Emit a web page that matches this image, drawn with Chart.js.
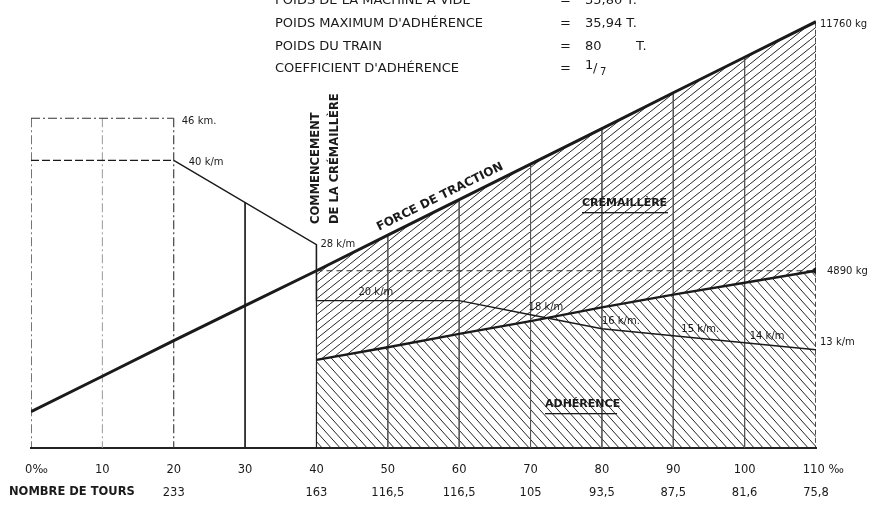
<!DOCTYPE html>
<html>
<head>
<meta charset="utf-8">
<script src="https://cdn.jsdelivr.net/npm/chart.js@4.4.1/dist/chart.umd.min.js"></script>
<style>
  html, body { margin: 0; background: #fff; }
  #wrap { width: 880px; height: 506px; }
</style>
</head>
<body>
<div id="wrap"><canvas id="c"></canvas></div>
<script>
// Rack railway diagram: traction force vs gradient, speed per gradient.

const grades = [0, 10, 20, 30, 40, 50, 60, 70, 80, 90, 100, 110];
const turnsPerMin = ['', '', '233', '', '163', '116,5', '116,5', '105', '93,5', '87,5', '81,6', '75,8'];
const tractionKg = [1000, 1980, 2960, 3930, 4890, 5870, 6850, 7830, 8810, 9800, 10780, 11760];

const rackGrades = [40, 50, 60, 70, 80, 90, 100, 110];
const rackTractionKg = [4890, 5870, 6850, 7830, 8810, 9800, 10780, 11760];
const adhesionKg = [2430, 2780, 3150, 3500, 3880, 4230, 4560, 4890];
const maxAdhesionKg = 4890;

const speedGrades = [0, 20, 40, 40, 60, 70, 80, 90, 100, 110];
const speedKmh = [40, 40, 28, 20, 20, 18, 16, 15, 14, 13];
const maxSpeedKmh = 46;
const speedNotes = ['40 k/m', '28 k/m', '20 k/m', '18 k/m', '16 k/m.', '15 k/m.', '14 k/m', '13 k/m'];

const leftGridGrades = [0, 10, 20, 30, 40];
const leftGridTopKmh = [46, 46, 46, 34, 28];

const headerNames = ['POIDS DE LA MACHINE A VIDE', "POIDS MAXIMUM D'ADHÉRENCE", 'POIDS DU TRAIN', "COEFFICIENT D'ADHÉRENCE"];
const headerValues = ['35,80 T.', '35,94 T.', '80', ''];

const SPEED_MIN = -1;
const INK = '#1a1a1a';
const FONT = "'DejaVu Sans', sans-serif";

function hatch(w, h, dir) {
  const c = document.createElement('canvas');
  c.width = w; c.height = h;
  const g = c.getContext('2d');
  g.strokeStyle = '#262626';
  g.lineWidth = 1;
  for (const k of [-1, 0, 1]) {
    g.beginPath();
    if (dir === '/') { g.moveTo(k * w, h); g.lineTo(k * w + w, 0); }
    else { g.moveTo(k * w, 0); g.lineTo(k * w + w, h); }
    g.stroke();
  }
  return g.createPattern(c, 'repeat');
}

const pts = (xs, ys) => xs.map((x, i) => ({ x, y: ys[i] }));

function vline(gx, top, axis, dash, color, width) {
  return {
    data: [{ x: gx, y: top }, { x: gx, y: axis === 'v' ? SPEED_MIN : 0 }],
    yAxisID: axis,
    borderColor: color,
    borderWidth: width,
    borderDash: dash,
    pointRadius: 0,
    fill: false,
  };
}

const verticals = [];
leftGridGrades.forEach((g, i) => {
  const style = [
    [[9, 3, 2, 3], INK, 1.2],
    [[9, 3, 2, 3], '#9a9a9a', 1],
    [[9, 3, 2, 3], '#333', 1.1],
    [[], '#222', 1],
    [[], '#222', 1.2],
  ][i];
  verticals.push(vline(g, leftGridTopKmh[i], 'v', ...style));
});
rackGrades.slice(1).forEach((g, i) => {
  const last = g === 110;
  verticals.push(vline(g, rackTractionKg[i + 1], 'y', last ? [5, 3] : [], last ? '#222' : '#555', last ? 1.6 : 0.9));
});

const datasets = [
  { // force de traction
    data: pts(grades, tractionKg), yAxisID: 'y',
    borderColor: INK, borderWidth: 3, pointRadius: 0, fill: false,
  },
  { // adhérence
    data: pts(rackGrades, adhesionKg), yAxisID: 'y',
    borderColor: INK, borderWidth: 2.4, fill: false,
    pointRadius: adhesionKg.map((_, i) => i === adhesionKg.length - 1 ? 3 : 0),
    pointBackgroundColor: INK, pointBorderWidth: 0,
  },
  { // vitesse
    data: pts(speedGrades, speedKmh), yAxisID: 'v',
    borderColor: INK, borderWidth: 1.4, pointRadius: 0, fill: false,
    segment: { borderDash: ctx => ctx.p0DataIndex === 0 ? [8, 3] : undefined },
  },
  { // vitesse maxi
    data: pts([0, 20], [maxSpeedKmh, maxSpeedKmh]), yAxisID: 'v',
    borderColor: '#333', borderWidth: 1.1, borderDash: [9, 3, 2, 3], pointRadius: 0, fill: false,
  },
  { // adhérence maxi
    data: pts([40, 110], [maxAdhesionKg, maxAdhesionKg]), yAxisID: 'y',
    borderColor: '#333', borderWidth: 1.1, borderDash: [6, 4], pointRadius: 0, fill: false,
  },
  ...verticals,
];
const adhesionFillIndex = datasets.length + 1;
datasets.push(
  { // crémaillère region
    data: pts(rackGrades, rackTractionKg), yAxisID: 'y',
    borderWidth: 0, pointRadius: 0,
    backgroundColor: hatch(10, 8, '/'), fill: adhesionFillIndex,
  },
  { // adhérence region
    data: pts(rackGrades, adhesionKg), yAxisID: 'y',
    borderWidth: 0, pointRadius: 0,
    backgroundColor: hatch(9, 10, '\\'), fill: 'origin',
  },
);

const notes = {
  id: 'notes',
  afterDraw(chart) {
    const { ctx, scales: { x, y, v } } = chart;
    ctx.save();
    ctx.fillStyle = INK;
    ctx.strokeStyle = INK;
    ctx.textBaseline = 'middle';

    // header
    ctx.font = `13px ${FONT}`;
    headerNames.forEach((t, i) => {
      const ty = 1 + i * 22.7;
      ctx.textAlign = 'left';
      ctx.fillText(t, 275, ty);
      ctx.fillText('=', 560, ty);
      if (headerValues[i]) ctx.fillText(headerValues[i], 585, ty);
    });
    ctx.fillText('T.', 636, 1 + 2 * 22.7);
    const cy = 1 + 3 * 22.7;
    ctx.fillText('1', 585, cy - 3);
    ctx.fillText('/', 593, cy);
    ctx.font = `10px ${FONT}`;
    ctx.fillText('7', 600, cy + 3);

    // speed notes
    ctx.font = `10px ${FONT}`;
    ctx.fillText('46 km.', x.getPixelForValue(20) + 8, v.getPixelForValue(maxSpeedKmh) + 3);
    const at = [
      [20, 40, 15, 2], [40, 28, 4, 0], [40, 20, 42, -8], [70, 18, -2, -7],
      [80, 16, 0, -7], [90, 15, 8, -6], [100, 14, 5, -6], [110, 13, 4, -7],
    ];
    at.forEach(([g, s, dx, dy], i) => {
      ctx.fillText(speedNotes[i], x.getPixelForValue(g) + dx, v.getPixelForValue(s) + dy);
    });
    ctx.fillText(tractionKg[tractionKg.length - 1] + ' kg', x.getPixelForValue(110) + 4, y.getPixelForValue(11760) + 3);
    ctx.fillText(maxAdhesionKg + ' kg', x.getPixelForValue(110) + 11, y.getPixelForValue(maxAdhesionKg) + 1);

    // region names
    ctx.font = `bold 11px ${FONT}`;
    ctx.fillText('CRÉMAILLÈRE', 582, 203);
    ctx.fillRect(582, 212, 86, 1.3);
    ctx.fillText('ADHÉRENCE', 545, 404);
    ctx.fillRect(545, 413, 72, 1.3);
    ctx.font = `bold 11.5px ${FONT}`;
    ctx.fillText('NOMBRE DE TOURS', 9, 492);

    // force label along the line
    const p0 = { x: x.getPixelForValue(0), y: y.getPixelForValue(tractionKg[0]) };
    const p1 = { x: x.getPixelForValue(110), y: y.getPixelForValue(11760) };
    const ang = Math.atan2(p1.y - p0.y, p1.x - p0.x);
    ctx.save();
    ctx.translate(440, 197);
    ctx.rotate(ang);
    ctx.textAlign = 'center';
    ctx.font = `bold 12px ${FONT}`;
    ctx.fillText('FORCE DE TRACTION', 0, 0);
    ctx.restore();

    // commencement de la crémaillère
    ctx.save();
    ctx.font = `bold 11.5px ${FONT}`;
    ctx.translate(316, 224);
    ctx.rotate(-Math.PI / 2);
    ctx.textAlign = 'left';
    ctx.fillText('COMMENCEMENT', 0, 0);
    ctx.fillText('DE LA CRÉMAILLÈRE', 0, 19);
    ctx.restore();

    ctx.restore();
  },
};

new Chart(document.getElementById('c'), {
  type: 'line',
  data: { datasets },
  options: {
    responsive: true,
    maintainAspectRatio: false,
    animation: false,
    layout: { padding: { left: 31, right: 64, top: 13, bottom: 0 } },
    plugins: { legend: { display: false }, tooltip: { enabled: false } },
    scales: {
      x: {
        type: 'linear', min: 0, max: 110,
        afterFit: s => { s.height = 58; },
        grid: { display: false },
        border: { display: true, color: '#222', width: 2 },
        ticks: {
          stepSize: 10, autoSkip: false, maxRotation: 0, padding: 3,
          color: INK, font: { family: FONT, size: 11.5, lineHeight: 2 },
          callback: (val) => {
            const k = grades.indexOf(val);
            const top = k === 0 ? '   0‰' : k === grades.length - 1 ? '    110 ‰' : String(val);
            return [top, turnsPerMin[k] || ''];
          },
        },
      },
      y: { display: false, min: 0, max: 12000 },
      v: { display: false, min: SPEED_MIN, max: 61 },
    },
  },
  plugins: [notes],
});
</script>
</body>
</html>
